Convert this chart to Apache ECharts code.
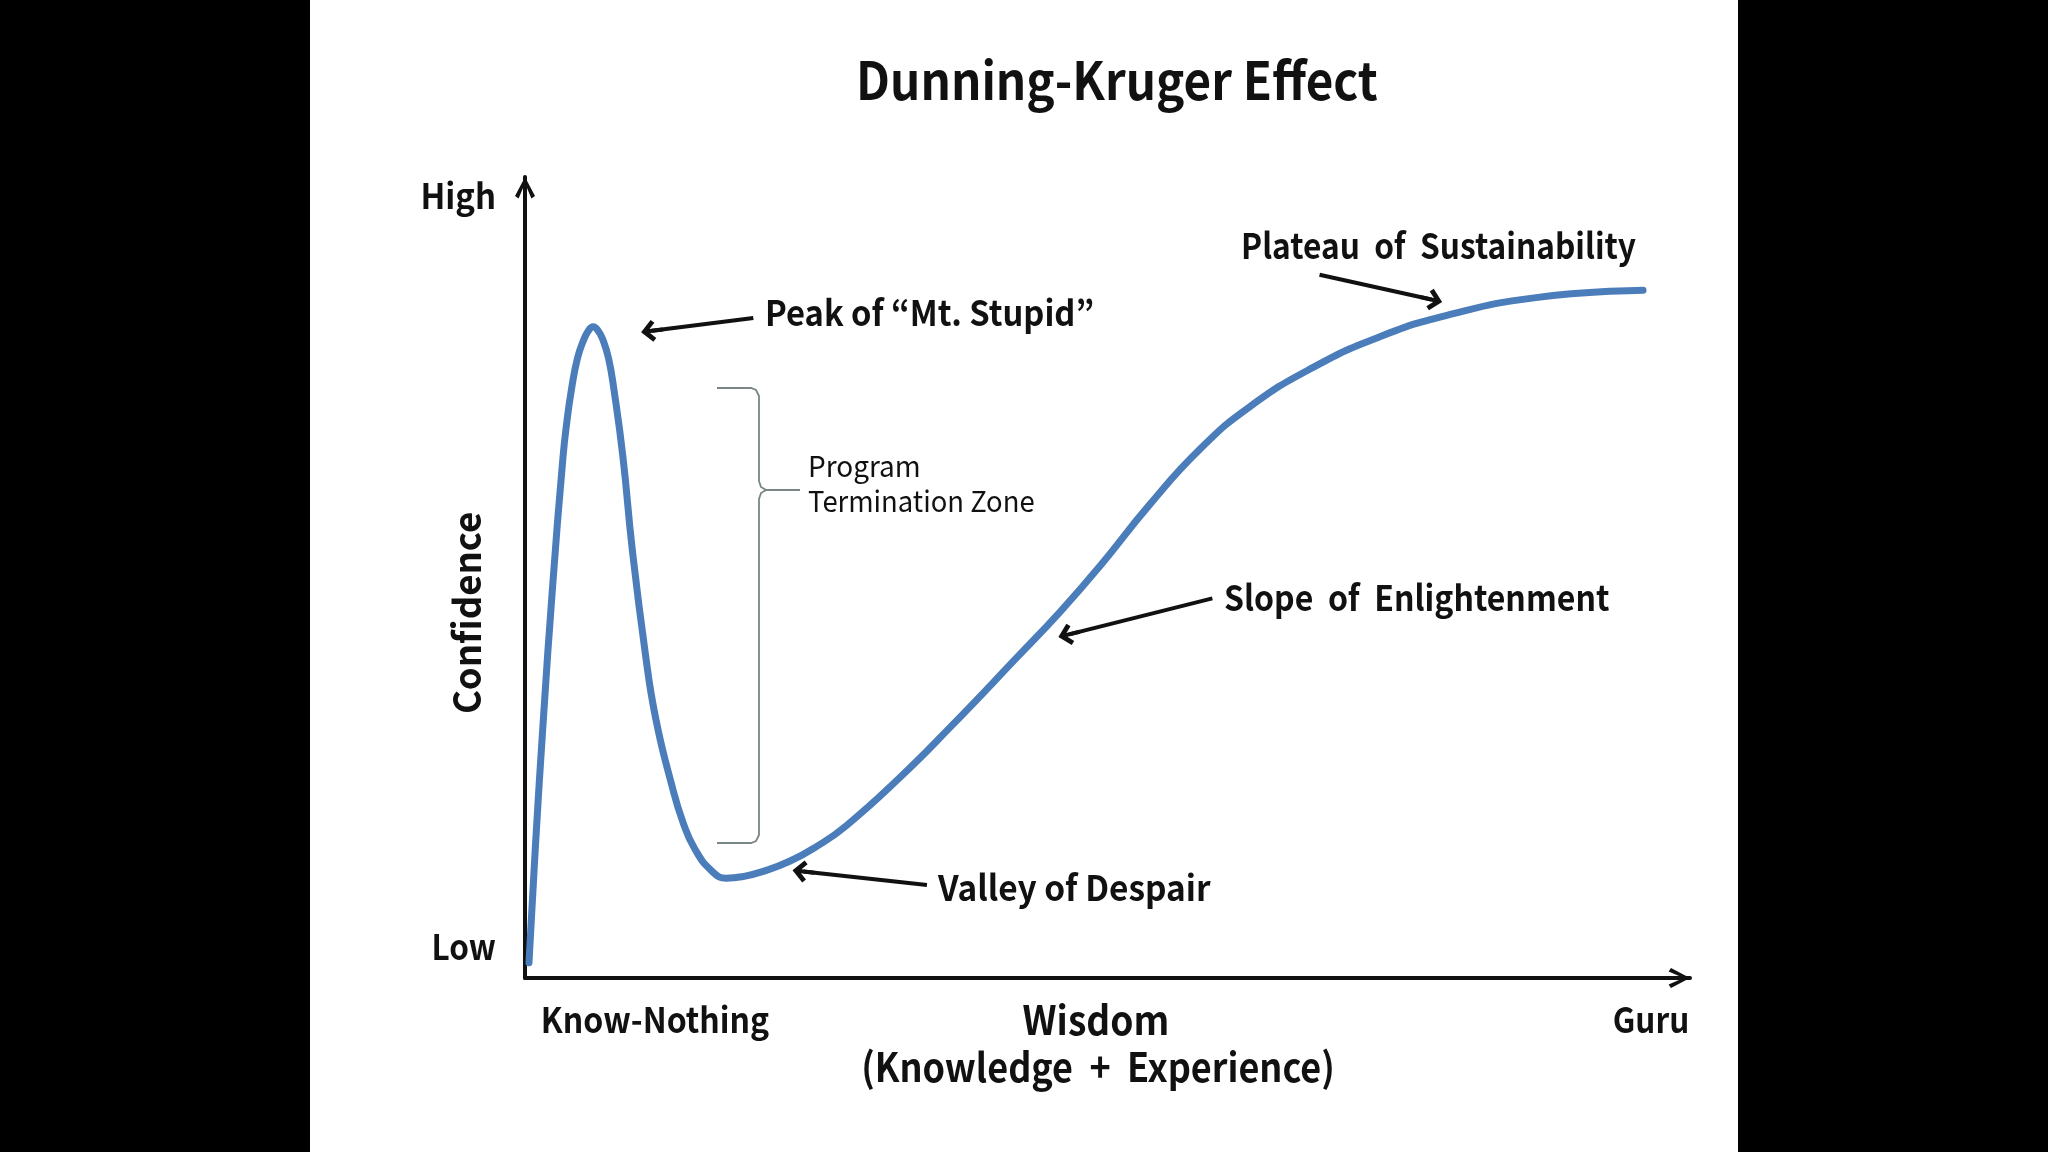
<!DOCTYPE html>
<html>
<head>
<meta charset="utf-8">
<title>Dunning-Kruger Effect</title>
<script src="https://cdn.jsdelivr.net/npm/echarts@6/dist/echarts.min.js"></script>
<style>
  html, body { margin: 0; padding: 0; background: #000; }
  #main { width: 2048px; height: 1152px; }
</style>
</head>
<body>
<div id="main"></div>
<script>
// curve, both axes on a 0-100 scale
var wisdom = [0.34, 0.88, 1.58, 2.36, 3.26, 3.59, 3.99, 4.49, 4.99, 5.44, 5.84, 6.28, 6.73, 7.18, 7.63, 8.41,
              9.20, 10.32, 11.22, 12.56, 13.57, 14.58, 16.04, 17.27, 18.73, 20.30, 22.76, 25.01, 27.59, 32.29,
              36.44, 42.27, 45.97, 49.34, 53.60, 57.97, 62.23, 67.61, 73.33, 79.05, 86.78, 95.97];
var confidence = [1.9, 16.1, 32.4, 48.7, 65.0, 69.4, 73.5, 77.3, 79.5, 80.8, 81.3, 80.8, 79.5, 77.3, 73.5, 65.0,
                  53.6, 40.6, 32.4, 24.3, 19.4, 16.1, 13.35, 12.46, 12.67, 13.24, 14.61, 16.40, 19.03, 25.19,
                  31.22, 40.08, 45.78, 51.41, 59.07, 66.07, 71.34, 76.20, 80.03, 82.69, 84.94, 85.87];

// annotation arrows (tail -> head), in data units
var arrowFrom = [[19.6, 82.4], [68.2, 87.8], [59.0, 47.4], [34.5, 11.6]];
var arrowTo   = [[10.9, 80.8], [77.8, 84.7], [46.7, 42.9], [23.9, 13.3]];

var font = "'Noto Sans CJK KR', 'Noto Sans', sans-serif";
// arrow heads pointing up, with a short shaft so the tip sits where the line ends
var ARROW = 'path://M11,0 L22,11 L18.6,14.4 L13,8.8 L13,22 L9,22 L9,8.8 L3.4,14.4 L0,11 Z';
var AXIS_ARROW = 'path://M10,0 L20,19 L16.4,21.4 L12,11 L12,24 L8,24 L8,11 L3.6,21.4 L0,19 Z';

var chart = echarts.init(document.getElementById('main'));

// the source font is narrower than ours, so texts are squeezed a little
function txt(text, x, y, size, align, sx, weight, rot) {
    return {
        type: 'text', x: x, y: y, z: 10, silent: true,
        scaleX: sx || 1, rotation: rot || 0,
        style: {
            text: text, fontSize: size, fontWeight: weight || 'bold', fontFamily: font,
            fill: '#111', align: align || 'left', verticalAlign: 'middle'
        }
    };
}

var points = wisdom.map(function (w, i) { return [w, confidence[i]]; });

var axisLine = {
    lineStyle: { color: '#111', width: 4 },
    symbol: ['none', AXIS_ARROW], symbolSize: [20, 24], symbolOffset: [0, -12]
};

chart.setOption({
    backgroundColor: '#000',
    animation: false,
    grid: { left: 525, right: 358, top: 177, bottom: 174 },
    xAxis: {
        type: 'value', min: 0, max: 100,
        splitLine: { show: false }, axisTick: { show: false }, axisLabel: { show: false },
        axisLine: axisLine
    },
    yAxis: {
        type: 'value', min: 0, max: 100,
        splitLine: { show: false }, axisTick: { show: false }, axisLabel: { show: false },
        axisLine: axisLine
    },
    graphic: [
        { type: 'rect', z: -10, silent: true, shape: { x: 310, y: 0, width: 1428, height: 1152 }, style: { fill: '#fff' } },
        txt('Dunning-Kruger Effect', 1117, 80, 52, 'center', 0.915),
        txt('High', 496, 196, 35, 'right', 0.94),
        txt('Low', 496, 947, 35, 'right', 0.9),
        txt('Confidence', 467, 613, 38, 'center', 0.96, 'bold', Math.PI / 2),
        txt('Know-Nothing', 655, 1020, 35, 'center', 0.915),
        txt('Wisdom', 1096, 1020, 40, 'center', 0.93),
        txt('(Knowledge  +  Experience)', 1098, 1067, 40, 'center', 0.9),
        txt('Guru', 1651, 1020, 35, 'center', 0.9),
        txt('Peak of \u201cMt. Stupid\u201d', 765, 313, 35, 'left', 0.935),
        txt('Plateau  of  Sustainability', 1241, 246, 35, 'left', 0.905),
        txt('Slope  of  Enlightenment', 1224, 598, 35, 'left', 0.915),
        txt('Valley of Despair', 938, 888, 35, 'left', 0.955),
        txt('Program', 808, 466, 29, 'left', 0.965, 'normal'),
        txt('Termination Zone', 808, 501, 29, 'left', 0.945, 'normal'),
        // bracket round the termination zone
        { type: 'polyline', silent: true, z: 5,
          shape: { points: [[717, 388], [751, 388], [756, 390], [759, 396], [759, 481], [761, 487], [766, 490], [800, 490]] },
          style: { stroke: '#7a8586', lineWidth: 1.8, fill: null } },
        { type: 'polyline', silent: true, z: 5,
          shape: { points: [[766, 490], [761, 493], [759, 499], [759, 835], [756, 841], [751, 843], [717, 843]] },
          style: { stroke: '#7a8586', lineWidth: 1.8, fill: null } }
    ],
    series: [{
        type: 'line',
        data: points,
        showSymbol: false,
        smooth: 0.5,
        clip: false,
        lineStyle: { color: '#4a7dba', width: 7, cap: 'round', join: 'round' },
        markLine: {
            silent: true,
            animation: false,
            symbol: ['none', ARROW],
            symbolSize: 22,
            label: { show: false },
            lineStyle: { color: '#111', width: 4, type: 'solid' },
            emphasis: { disabled: true },
            data: arrowFrom.map(function (a, i) {
                return [{ coord: a }, { coord: arrowTo[i] }];
            })
        }
    }]
});
</script>
</body>
</html>
